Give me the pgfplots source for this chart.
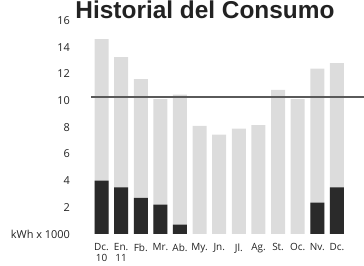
\documentclass[border=0pt]{standalone}
\usepackage{pgfplots}
\pgfplotsset{compat=1.18}
\usepackage{fontspec}
\setmainfont{Open Sans}
\newfontfamily\titlefont{Liberation Sans}
\definecolor{lightbar}{HTML}{DCDCDC}
\definecolor{darkbar}{HTML}{2A2A2A}
\definecolor{refline}{HTML}{5A5A5A}
\definecolor{txt}{HTML}{222222}
\begin{document}
\begin{tikzpicture}[x=1bp,y=1bp]
\begin{axis}[
  at={(91bp,32bp)}, anchor=south west,
  width=273bp, height=213.5bp, scale only axis,
  xmin=-0.536, xmax=13.38, ymin=0, ymax=16,
  axis line style={draw=none}, tick style={draw=none},
  clip=false,
  ytick={0,2,4,6,8,10,12,14,16},
  yticklabels={{\fontsize{11}{12}\selectfont\raisebox{-3bp}{kWh x 1000}},2,4,6,8,10,12,14,16},
  yticklabel style={anchor=east, xshift=-17.5bp, font=\fontsize{11}{12}\selectfont, text=txt},
  xtick={0,1,2,3,4,5,6,7,8,9,10,11,12},
  xticklabels={{Dc.\\10},{En.\\11},Fb.,Mr.,Ab.,My.,Jn.,Jl.,Ag.,St.,Oc.,Nv.,Dc.},
  xticklabel style={align=center, anchor=north, font=\fontsize{10}{11}\selectfont, text=txt, yshift=-6bp},
  /pgf/number format/assume math mode=true,
]
\addplot[ybar, bar width=14bp, bar shift=0pt, fill=lightbar, draw=none] coordinates {
 (0,14.6) (1,13.25) (2,11.6) (3,10.1) (4,10.45) (5,8.1) (6,7.45) (7,7.9) (8,8.15) (9,10.8) (10,10.1) (11,12.4) (12,12.8)};
\addplot[ybar, bar width=14bp, bar shift=0pt, fill=darkbar, draw=none] coordinates {
 (0,4.0) (1,3.5) (2,2.7) (3,2.2) (4,0.7) (11,2.35) (12,3.5)};
\addplot[refline, line width=2bp] coordinates {(-0.536,10.3) (13.38,10.3)};
\end{axis}
\node[font=\titlefont\bfseries\fontsize{24.5}{24.5}\selectfont, anchor=base, text=txt, inner sep=0pt] at (205,248) {Historial del Consumo};
\pgfresetboundingbox
\useasboundingbox (0,0) rectangle (364,266);
\end{tikzpicture}
\end{document}
